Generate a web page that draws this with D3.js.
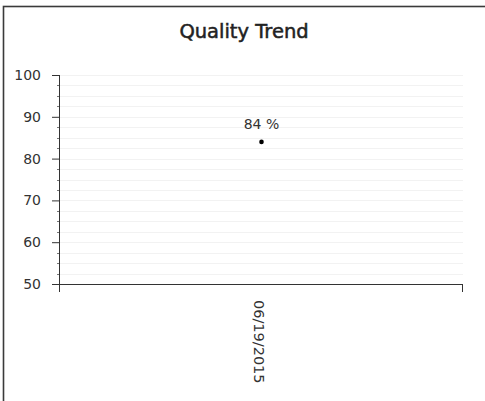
<!DOCTYPE html>
<html>
<head>
<meta charset="utf-8">
<script src="https://cdn.jsdelivr.net/npm/d3@7"></script>
<style>
  html, body { margin: 0; padding: 0; background: #fff; }
  svg { display: block; font-family: "DejaVu Sans", Verdana, sans-serif; }
</style>
</head>
<body>
<div id="chart"></div>
<script>
// Chart data
const dates = ["06/19/2015"];
const quality = [84];
const yTicks = [50, 60, 70, 80, 90, 100];
const chartTitle = "Quality Trend";

const width = 485, height = 401;
const margin = { top: 75, right: 22, bottom: 117, left: 60 };
const plotW = width - margin.left - margin.right;
const plotH = height - margin.top - margin.bottom;

const svg = d3.select("#chart").append("svg")
    .attr("width", width)
    .attr("height", height);

// outer frame
svg.append("rect")
    .attr("x", 3.5).attr("y", 6.5)
    .attr("width", width + 10).attr("height", height + 10)
    .attr("fill", "none")
    .attr("stroke", "#3a3a3a")
    .attr("stroke-width", 1.6);

// title
svg.append("text")
    .attr("x", 244)
    .attr("y", 38)
    .attr("text-anchor", "middle")
    .style("font-size", "19.5px")
    .style("fill", "#222")
    .style("stroke", "#222")
    .style("stroke-width", 0.5)
    .text(chartTitle);

const g = svg.append("g")
    .attr("transform", `translate(${margin.left},${margin.top})`);

const x = d3.scalePoint()
    .domain(dates)
    .range([0, plotW])
    .padding(0.5);

const y = d3.scaleLinear()
    .domain([50, 100])
    .range([plotH, 0]);

// minor grid lines every 2.5
const minor = d3.range(50, 100.01, 2.5);
g.append("g")
    .selectAll("line")
    .data(minor.filter(v => v > 50))
    .enter().append("line")
    .attr("x1", 0).attr("x2", plotW)
    .attr("y1", d => Math.round(y(d)) + 0.5)
    .attr("y2", d => Math.round(y(d)) + 0.5)
    .attr("stroke", "#f2f2f2")
    .attr("stroke-width", 1);

// y axis
const yAxis = g.append("g")
    .call(d3.axisLeft(y).tickValues(yTicks).tickSize(8).tickPadding(11))
    .call(a => a.select(".domain").remove());
yAxis.selectAll(".tick line").attr("stroke", "#333");
yAxis.selectAll("text")
    .style("font-size", "14px")
    .style("font-family", "DejaVu Sans, Verdana, sans-serif")
    .style("fill", "#333");

// y minor ticks
g.append("g")
    .selectAll("line")
    .data(minor.filter(v => !yTicks.includes(v)))
    .enter().append("line")
    .attr("x1", -3).attr("x2", 0)
    .attr("y1", d => Math.round(y(d)) + 0.5)
    .attr("y2", d => Math.round(y(d)) + 0.5)
    .attr("stroke", "#777");

// y axis line, extended down as the x-axis end tick
g.append("line")
    .attr("x1", -0.5).attr("x2", -0.5)
    .attr("y1", 0).attr("y2", plotH + 8)
    .attr("stroke", "#333");

// x axis line
g.append("line")
    .attr("x1", -8).attr("x2", plotW)
    .attr("y1", plotH + 0.5).attr("y2", plotH + 0.5)
    .attr("stroke", "#333");
g.append("line")
    .attr("x1", plotW - 0.5).attr("x2", plotW - 0.5)
    .attr("y1", plotH).attr("y2", plotH + 8)
    .attr("stroke", "#333");

// x labels (rotated)
g.append("g")
    .selectAll("text")
    .data(dates)
    .enter().append("text")
    .attr("transform", d => `translate(${x(d) - 2},${plotH + 16}) rotate(90)`)
    .attr("dy", "0.35em")
    .attr("text-anchor", "start")
    .style("font-size", "14.5px")
    .style("fill", "#333")
    .text(d => d);

// points
const pts = dates.map((d, i) => ({ date: d, value: quality[i] }));
g.selectAll(".dot")
    .data(pts)
    .enter().append("circle")
    .attr("class", "dot")
    .attr("cx", d => x(d.date))
    .attr("cy", d => y(d.value))
    .attr("r", 2.3)
    .attr("fill", "#000");

g.selectAll(".lbl")
    .data(pts)
    .enter().append("text")
    .attr("class", "lbl")
    .attr("x", d => x(d.date))
    .attr("y", d => y(d.value) - 13)
    .attr("text-anchor", "middle")
    .style("font-size", "14px")
    .style("fill", "#333")
    .text(d => d.value + " %");
</script>
</body>
</html>
